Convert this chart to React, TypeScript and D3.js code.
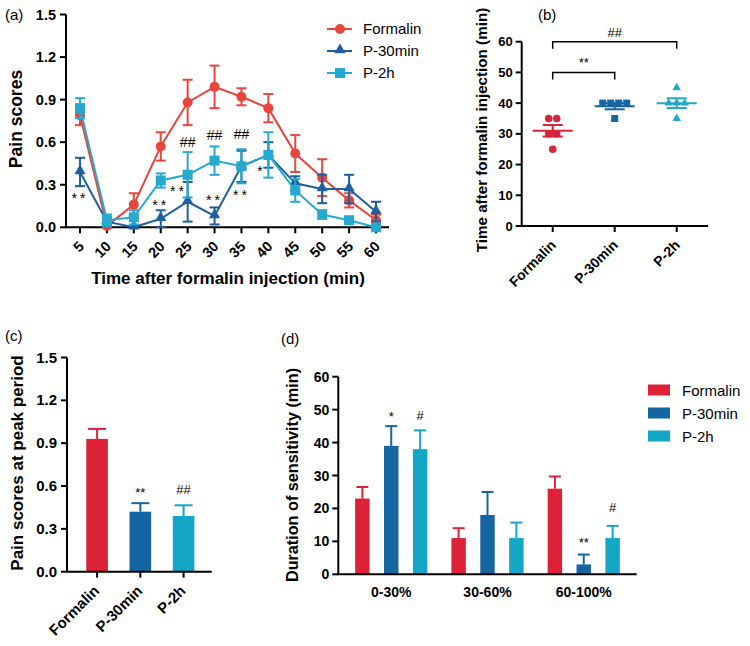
import React from 'react';
import * as d3 from 'd3';

// ---------- Panel (a) data ----------
const timePoints = [5, 10, 15, 20, 25, 30, 35, 40, 45, 50, 55, 60];
const formalinMean = [0.79, 0.01, 0.16, 0.57, 0.88, 0.99, 0.92, 0.84, 0.52, 0.35, 0.19, 0.05];
const formalinErr = [0.07, 0.01, 0.08, 0.1, 0.16, 0.15, 0.06, 0.1, 0.13, 0.13, 0.05, 0.04];
const p30Mean = [0.39, 0.04, 0.0, 0.06, 0.18, 0.08, 0.43, 0.51, 0.31, 0.27, 0.27, 0.11];
const p30Err = [0.1, 0.03, 0.0, 0.06, 0.14, 0.06, 0.11, 0.09, 0.05, 0.1, 0.1, 0.07];
const p2hMean = [0.84, 0.05, 0.07, 0.33, 0.37, 0.47, 0.43, 0.51, 0.26, 0.09, 0.05, 0.0];
const p2hErr = [0.07, 0.04, 0.05, 0.05, 0.16, 0.1, 0.12, 0.16, 0.08, 0.03, 0.01, 0.01];
const aYTicks = [0, 0.3, 0.6, 0.9, 1.2, 1.5];
const aMarks = [
  { t: 5, v: 0.23, s: '**' },
  { t: 20, v: 0.18, s: '**' },
  { t: 23.3, v: 0.28, s: '**' },
  { t: 30, v: 0.215, s: '**' },
  { t: 35, v: 0.25, s: '**' },
  { t: 38.7, v: 0.42, s: '*' },
  { t: 25, v: 0.6, s: '##' },
  { t: 30, v: 0.65, s: '##' },
  { t: 35, v: 0.655, s: '##' },
];

// ---------- Panel (b) data ----------
const groups = ['Formalin', 'P-30min', 'P-2h'];
const bFormalin = [35, 35, 30, 30, 25];
const bP30 = [40, 40, 40, 40, 35];
const bP2h = [45, 40, 40, 40, 35];
const bYTicks = [0, 10, 20, 30, 40, 50, 60];

// ---------- Panel (c) data ----------
const cMean = [0.93, 0.42, 0.39];
const cErr = [0.07, 0.06, 0.075];
const cMarks = ['', '**', '##'];
const cYTicks = [0, 0.3, 0.6, 0.9, 1.2, 1.5];

// ---------- Panel (d) data ----------
const dCategories = ['0-30%', '30-60%', '60-100%'];
const dFormalin = [23, 11, 26];
const dFormalinErr = [3.5, 3, 3.7];
const dP30 = [39, 18, 3];
const dP30Err = [6, 7, 3];
const dP2h = [38, 11, 11];
const dP2hErr = [5.7, 4.7, 3.7];
const dMarksP30 = ['*', '', '**'];
const dMarksP2h = ['#', '', '#'];
const dMarkVals = [[49, 0, 10.6], [48.3, 0, 20.3]];
const dYTicks = [0, 10, 20, 30, 40, 50, 60];

const FONT = '"Liberation Sans", Arial, Helvetica, sans-serif';
const lineColors = ['#e8453c', '#1f5fa0', '#25a9cf'];
const barColors = ['#dd2137', '#1565a3', '#14a6c5'];

function Marker({ kind, x, y, color }: { kind: number; x: number; y: number; color: string }) {
  if (kind === 0) return <circle cx={x} cy={y} r={5} fill={color} />;
  if (kind === 1) {
    const p = d3.symbol().type(d3.symbolTriangle).size(55)();
    return <path d={p || ''} transform={`translate(${x},${y - 1})`} fill={color} />;
  }
  return <rect x={x - 5} y={y - 5} width={10} height={10} fill={color} />;
}

function PanelA() {
  const x = d3.scaleLinear().domain([5, 60]).range([80, 376]);
  const y = d3.scaleLinear().domain([0, 1.5]).range([227.3, 14.5]);
  const x0 = 66;
  const xEnd = 389;
  const series = [
    { m: formalinMean, e: formalinErr, name: 'Formalin' },
    { m: p30Mean, e: p30Err, name: 'P-30min' },
    { m: p2hMean, e: p2hErr, name: 'P-2h' },
  ];
  const line = d3.line<number>().x((_, i) => x(timePoints[i])).y((d) => y(d));
  return (
    <g>
      <text x={5} y={20} fontSize={15} fontFamily={FONT}>(a)</text>
      {/* axes */}
      <line x1={x0} x2={x0} y1={y(1.5)} y2={y(0)} stroke="#000" strokeWidth={2} />
      <line x1={x0 - 1} x2={xEnd} y1={y(0)} y2={y(0)} stroke="#000" strokeWidth={2} />
      {aYTicks.map((t) => (
        <g key={t}>
          <line x1={x0 - 6} x2={x0} y1={y(t)} y2={y(t)} stroke="#000" strokeWidth={2} />
          <text x={x0 - 10} y={y(t) + 5} textAnchor="end" fontSize={14.5} fontWeight="bold" fontFamily={FONT}>
            {t.toFixed(1)}
          </text>
        </g>
      ))}
      {timePoints.map((t) => (
        <g key={t}>
          <line x1={x(t)} x2={x(t)} y1={y(0)} y2={y(0) + 6} stroke="#000" strokeWidth={2} />
          <text
            transform={`translate(${x(t) + 5},${y(0) + 20}) rotate(-45)`}
            textAnchor="end"
            fontSize={14.5}
            fontWeight="bold"
            fontFamily={FONT}
          >
            {t}
          </text>
        </g>
      ))}
      <text x={228} y={284} textAnchor="middle" fontSize={17} fontWeight="bold" fontFamily={FONT}>
        Time after formalin injection (min)
      </text>
      <text transform="translate(22,119) rotate(-90)" textAnchor="middle" fontSize={17.5} fontWeight="bold" fontFamily={FONT}>
        Pain scores
      </text>
      {series.map((s, si) => (
        <g key={s.name}>
          <path d={line(s.m) || ''} fill="none" stroke={lineColors[si]} strokeWidth={2} />
          {s.m.map((v, i) => (
            <g key={i} stroke={lineColors[si]} strokeWidth={2}>
              <line x1={x(timePoints[i])} x2={x(timePoints[i])} y1={y(v - s.e[i])} y2={y(v + s.e[i])} />
              <line x1={x(timePoints[i]) - 5} x2={x(timePoints[i]) + 5} y1={y(v + s.e[i])} y2={y(v + s.e[i])} />
              <line x1={x(timePoints[i]) - 5} x2={x(timePoints[i]) + 5} y1={y(v - s.e[i])} y2={y(v - s.e[i])} />
            </g>
          ))}
          {s.m.map((v, i) => (
            <Marker key={i} kind={si} x={x(timePoints[i])} y={y(v)} color={lineColors[si]} />
          ))}
        </g>
      ))}
      {aMarks.map((m, i) => (
        <text
          key={i}
          x={x(m.t)}
          y={y(m.v) + (m.s.startsWith('*') ? 8 : 5)}
          textAnchor="middle"
          fontSize={14}
          fontFamily={FONT}
          letterSpacing={m.s.startsWith('*') ? 3 : 0}
        >
          {m.s}
        </text>
      ))}
      {/* legend */}
      {series.map((s, si) => {
        const ly = 29 + si * 22;
        return (
          <g key={s.name}>
            <line x1={327} x2={352} y1={ly} y2={ly} stroke={lineColors[si]} strokeWidth={2} />
            <Marker kind={si} x={340} y={ly} color={lineColors[si]} />
            <text x={363} y={ly + 5} fontSize={15} fontFamily={FONT}>{s.name}</text>
          </g>
        );
      })}
    </g>
  );
}

function jitter(vals: number[]) {
  const counts = new Map<number, number>();
  vals.forEach((v) => counts.set(v, (counts.get(v) || 0) + 1));
  const seen = new Map<number, number>();
  return vals.map((v) => {
    const n = counts.get(v) || 1;
    const k = seen.get(v) || 0;
    seen.set(v, k + 1);
    return (k - (n - 1) / 2) * 8;
  });
}

function PanelB() {
  const x = d3.scalePoint<string>().domain(groups).range([552.7, 676.7]);
  const y = d3.scaleLinear().domain([0, 60]).range([226, 41.7]);
  const x0 = 521.7;
  const xEnd = 708;
  const data = [bFormalin, bP30, bP2h];
  const colors = ['#d8243a', '#1565a3', '#20a8c8'];
  const bracket = (g1: string, g2: string, v: number, label: string) => {
    const yy = y(v);
    return (
      <g>
        <path
          d={`M${x(g1)},${yy + 7}V${yy}H${x(g2)}V${yy + 7}`}
          fill="none"
          stroke="#000"
          strokeWidth={1.5}
        />
        <text x={((x(g1) || 0) + (x(g2) || 0)) / 2} y={yy - 5} textAnchor="middle" fontSize={13} fontFamily={FONT}>
          {label}
        </text>
      </g>
    );
  };
  return (
    <g>
      <text x={538} y={20} fontSize={15} fontFamily={FONT}>(b)</text>
      <line x1={x0} x2={x0} y1={y(60)} y2={y(0)} stroke="#000" strokeWidth={2} />
      <line x1={x0 - 1} x2={xEnd} y1={y(0)} y2={y(0)} stroke="#000" strokeWidth={2} />
      {bYTicks.map((t) => (
        <g key={t}>
          <line x1={x0 - 6} x2={x0} y1={y(t)} y2={y(t)} stroke="#000" strokeWidth={2} />
          <text x={x0 - 9} y={y(t) + 4.5} textAnchor="end" fontSize={13} fontWeight="bold" fontFamily={FONT}>
            {t}
          </text>
        </g>
      ))}
      {groups.map((g) => (
        <g key={g}>
          <line x1={x(g)} x2={x(g)} y1={y(0)} y2={y(0) + 6} stroke="#000" strokeWidth={2} />
          <text
            transform={`translate(${(x(g) || 0) + 4},${y(0) + 20}) rotate(-45)`}
            textAnchor="end"
            fontSize={14}
            fontWeight="bold"
            fontFamily={FONT}
          >
            {g}
          </text>
        </g>
      ))}
      <text transform="translate(487,130) rotate(-90)" textAnchor="middle" fontSize={15.2} fontWeight="bold" fontFamily={FONT}>
        Time after formalin injection (min)
      </text>
      {data.map((vals, gi) => {
        const cx = x(groups[gi]) || 0;
        const mean = d3.mean(vals) || 0;
        const sd = d3.deviation(vals) || 0;
        const sem = sd / Math.sqrt(vals.length);
        const off = jitter(vals);
        return (
          <g key={gi}>
            {vals.map((v, i) =>
              gi === 0 ? (
                <circle key={i} cx={cx + off[i]} cy={y(v)} r={3.8} fill={colors[gi]} />
              ) : gi === 1 ? (
                <rect key={i} x={cx + off[i] - 3.5} y={y(v) - 3.5} width={7} height={7} fill={colors[gi]} />
              ) : (
                <path
                  key={i}
                  d={d3.symbol().type(d3.symbolTriangle).size(32)() || ''}
                  transform={`translate(${cx + off[i]},${y(v)})`}
                  fill={colors[gi]}
                />
              )
            )}
            <g stroke={colors[gi]} strokeWidth={2}>
              <line x1={cx - 20} x2={cx + 20} y1={y(mean)} y2={y(mean)} />
              <line x1={cx} x2={cx} y1={y(mean - sem)} y2={y(mean + sem)} />
              <line x1={cx - 10} x2={cx + 10} y1={y(mean + sem)} y2={y(mean + sem)} />
              <line x1={cx - 10} x2={cx + 10} y1={y(mean - sem)} y2={y(mean - sem)} />
            </g>
          </g>
        );
      })}
      {bracket('Formalin', 'P-30min', 50, '**')}
      {bracket('Formalin', 'P-2h', 60, '##')}
    </g>
  );
}

function PanelC() {
  const x = d3.scaleBand<string>().domain(groups).range([69, 211.7]).paddingInner(0.5).paddingOuter(0.4);
  const y = d3.scaleLinear().domain([0, 1.5]).range([571.7, 357.5]);
  const x0 = 67;
  const bw = x.bandwidth();
  return (
    <g>
      <text x={5} y={341} fontSize={15} fontFamily={FONT}>(c)</text>
      {groups.map((g, i) => {
        const bx = x(g) || 0;
        const cx = bx + bw / 2;
        return (
          <g key={g}>
            <line x1={cx} x2={cx} y1={y(cMean[i])} y2={y(cMean[i] + cErr[i])} stroke={barColors[i]} strokeWidth={2} />
            <line x1={cx - 9} x2={cx + 9} y1={y(cMean[i] + cErr[i])} y2={y(cMean[i] + cErr[i])} stroke={barColors[i]} strokeWidth={2} />
            <rect x={bx} y={y(cMean[i])} width={bw} height={y(0) - y(cMean[i])} fill={barColors[i]} />
            {cMarks[i] && (
              <text
                x={cx}
                y={y(0.58) + (cMarks[i].startsWith('*') ? 8 : 5)}
                textAnchor="middle"
                fontSize={13}
                fontFamily={FONT}
              >
                {cMarks[i]}
              </text>
            )}
            <line x1={cx} x2={cx} y1={y(0)} y2={y(0) + 6} stroke="#000" strokeWidth={2} />
            <text
              transform={`translate(${cx + 3},${y(0) + 20}) rotate(-45)`}
              textAnchor="end"
              fontSize={15}
              fontWeight="bold"
              fontFamily={FONT}
            >
              {g}
            </text>
          </g>
        );
      })}
      <line x1={x0} x2={x0} y1={y(1.5)} y2={y(0)} stroke="#000" strokeWidth={2} />
      <line x1={x0 - 1} x2={211.7} y1={y(0)} y2={y(0)} stroke="#000" strokeWidth={2} />
      {cYTicks.map((t) => (
        <g key={t}>
          <line x1={x0 - 6} x2={x0} y1={y(t)} y2={y(t)} stroke="#000" strokeWidth={2} />
          <text x={x0 - 10} y={y(t) + 5} textAnchor="end" fontSize={15} fontWeight="bold" fontFamily={FONT}>
            {t.toFixed(1)}
          </text>
        </g>
      ))}
      <text transform="translate(23,463) rotate(-90)" textAnchor="middle" fontSize={17} fontWeight="bold" fontFamily={FONT}>
        Pain scores at peak period
      </text>
    </g>
  );
}

function PanelD() {
  const x = d3.scaleBand<string>().domain(dCategories).range([338.3, 636.7]).paddingInner(0.1).paddingOuter(0.1);
  const sub = d3.scaleBand<number>().domain([0, 1, 2]).range([0, x.bandwidth()]).paddingInner(0.5).paddingOuter(0.25);
  const y = d3.scaleLinear().domain([0, 60]).range([574.3, 376.7]);
  const x0 = 338.3;
  const series = [
    { m: dFormalin, e: dFormalinErr, name: 'Formalin' },
    { m: dP30, e: dP30Err, name: 'P-30min' },
    { m: dP2h, e: dP2hErr, name: 'P-2h' },
  ];
  const bw = sub.bandwidth();
  return (
    <g>
      <text x={281} y={344} fontSize={15} fontFamily={FONT}>(d)</text>
      {dCategories.map((c, ci) => (
        <g key={c}>
          {series.map((s, si) => {
            const bx = (x(c) || 0) + (sub(si) || 0);
            const cx = bx + bw / 2;
            const top = y(s.m[ci] + s.e[ci]);
            return (
              <g key={si}>
                <line x1={cx} x2={cx} y1={y(s.m[ci])} y2={top} stroke={barColors[si]} strokeWidth={2} />
                <line x1={cx - 6} x2={cx + 6} y1={top} y2={top} stroke={barColors[si]} strokeWidth={2} />
                <rect x={bx} y={y(s.m[ci])} width={bw} height={y(0) - y(s.m[ci])} fill={barColors[si]} />
              </g>
            );
          })}
          {[dMarksP30, dMarksP2h].map((arr, k) =>
            arr[ci] ? (
              <text
                key={k}
                x={(x(c) || 0) + (sub(k + 1) || 0) + bw / 2}
                y={y(dMarkVals[k][ci]) + (arr[ci].startsWith('*') ? 8 : 5)}
                textAnchor="middle"
                fontSize={13}
                fontFamily={FONT}
              >
                {arr[ci]}
              </text>
            ) : null
          )}
          <text x={(x(c) || 0) + x.bandwidth() / 2} y={597} textAnchor="middle" fontSize={14} fontWeight="bold" fontFamily={FONT}>
            {c}
          </text>
        </g>
      ))}
      <line x1={x0} x2={x0} y1={y(60)} y2={y(0)} stroke="#000" strokeWidth={2} />
      <line x1={x0 - 1} x2={636.7} y1={y(0)} y2={y(0)} stroke="#000" strokeWidth={2} />
      {dYTicks.map((t) => (
        <g key={t}>
          <line x1={x0 - 6} x2={x0} y1={y(t)} y2={y(t)} stroke="#000" strokeWidth={2} />
          <text x={x0 - 9} y={y(t) + 5} textAnchor="end" fontSize={14} fontWeight="bold" fontFamily={FONT}>
            {t}
          </text>
        </g>
      ))}
      <text transform="translate(298,475) rotate(-90)" textAnchor="middle" fontSize={16.2} fontWeight="bold" fontFamily={FONT}>
        Duration of sensitivity (min)
      </text>
      {series.map((s, si) => {
        const ly = 390 + si * 23;
        return (
          <g key={s.name}>
            <rect x={648} y={ly - 5.5} width={22} height={11} fill={barColors[si]} />
            <text x={682} y={ly + 5.5} fontSize={15} fontFamily={FONT}>{s.name}</text>
          </g>
        );
      })}
    </g>
  );
}

export default function App() {
  return (
    <svg width={750} height={646} style={{ position: 'absolute', left: 0, top: 0, background: '#fff' }}>
      <rect width={750} height={646} fill="#fff" />
      <PanelA />
      <PanelB />
      <PanelC />
      <PanelD />
    </svg>
  );
}
